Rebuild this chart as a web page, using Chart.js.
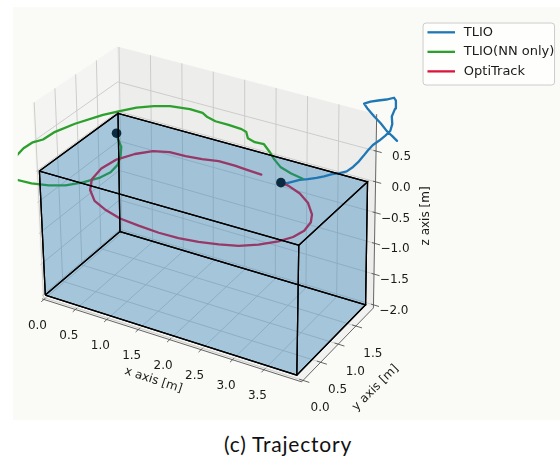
<!DOCTYPE html>
<html>
<head>
<meta charset="utf-8">
<script src="https://cdn.jsdelivr.net/npm/chart.js@4.4.1/dist/chart.umd.min.js"></script>
<style>
  html, body { margin: 0; padding: 0; background: #fff; }
  #wrap { position: relative; width: 560px; height: 465px; overflow: hidden; }
  #fig { position: absolute; left: 13px; top: 7px; }
  #caption { position: absolute; left: 0; width: 576px; top: 432px; text-align: center;
    font-family: Lato, "Open Sans", sans-serif; font-size: 21px; letter-spacing: 0.8px; color: #111; line-height: 24px; }
</style>
</head>
<body>
<div id="wrap">
  <canvas id="fig" width="547" height="413"></canvas>
  <div id="caption">(c) Trajectory</div>
</div>
<script>
// axis ticks and limits (metres)
const xTicks = [0.0, 0.5, 1.0, 1.5, 2.0, 2.5, 3.0, 3.5];
const yTicks = [0.0, 0.5, 1.0, 1.5];
const zTicks = [-2.0, -1.5, -1.0, -0.5, 0.0, 0.5];
const xLim = [-0.03, 4.1];
const yLim = [-0.04, 2.0];
const zLim = [-2.05, 1.1];

// the room drawn as a blue box
const roomX = [0, 4.0];
const roomY = [0, 1.95];
const roomZ = [-2.0, 0.0];

// TLIO
const tlioX = [2.66, 2.76, 2.87, 2.96, 3.09, 3.23, 3.35, 3.48, 3.60, 3.71, 3.81, 3.89, 3.97, 4.04, 4.12, 4.22, 4.31,
  4.39, 4.42, 4.41, 4.46, 4.47, 4.44, 4.32, 4.19, 4.07, 3.97, 4.02, 4.13, 4.24, 4.34, 4.42, 4.50];
const tlioY = [1.87, 1.87, 1.87, 1.87, 1.87, 1.87, 1.87, 1.87, 1.87, 1.87, 1.87, 1.87, 1.87, 1.87, 1.87, 1.87, 1.87,
  1.87, 1.87, 1.87, 1.87, 1.87, 1.87, 1.87, 1.87, 1.87, 1.87, 1.87, 1.87, 1.87, 1.87, 1.87, 1.87];
const tlioZ = [-0.35, -0.33, -0.27, -0.22, -0.17, -0.11, -0.05, 0.02, 0.07, 0.13, 0.23, 0.33, 0.45, 0.56, 0.67, 0.77, 0.87,
  0.97, 1.09, 1.21, 1.35, 1.48, 1.52, 1.46, 1.41, 1.36, 1.30, 1.24, 1.14, 1.05, 0.95, 0.90, 0.84];

// TLIO (NN only)
const nnX = [3.42, 3.21, 3.00, 2.81, 2.65, 2.47, 2.33, 2.19, 2.08, 1.98, 1.76, 1.55, 1.39, 1.27, 1.06, 0.78, 0.59, 0.41,
  0.27, 0.14, -0.04, -0.14, -0.15, -0.22, -0.23, -0.19, -0.17, -0.09, 0.03, 0.14, 0.39, 0.61, 0.79, 0.94, 1.06, 1.10,
  1.07, 0.97, 0.84, 0.69, 0.58];
const nnY = [1.15, 1.20, 1.28, 1.43, 1.58, 1.73, 1.72, 1.77, 1.91, 1.95, 1.97, 1.97, 2.02, 2.09, 2.10, 2.04, 1.93, 1.78,
  1.58, 1.37, 0.96, 0.60, 0.35, 0.21, 0.00, -0.23, -0.41, -0.60, -0.75, -0.83, -0.81, -0.74, -0.62, -0.43, -0.19, 0.01,
  0.24, 0.48, 0.71, 0.87, 1.01];
const nnZ = [0.30, 0.30, 0.30, 0.30, 0.30, 0.30, 0.30, 0.30, 0.30, 0.30, 0.30, 0.30, 0.30, 0.30, 0.30, 0.30, 0.30, 0.30,
  0.30, 0.30, 0.30, 0.30, 0.30, 0.30, 0.30, 0.30, 0.30, 0.30, 0.30, 0.30, 0.30, 0.30, 0.30, 0.30, 0.30, 0.30,
  0.30, 0.30, 0.30, 0.30, 0.30];

// OptiTrack
const optiX = [2.66, 2.79, 3.04, 3.27, 3.47, 3.56, 3.59, 3.54, 3.42, 3.23, 3.01, 2.76, 2.49, 2.21, 1.91, 1.58, 1.27,
  0.97, 0.73, 0.52, 0.38, 0.33, 0.37, 0.50, 0.67, 0.88, 1.13, 1.37, 1.60, 1.86, 2.08, 2.31];
const optiY = [1.87, 1.85, 1.74, 1.57, 1.33, 1.14, 0.90, 0.68, 0.48, 0.27, 0.11, 0.01, -0.07, -0.12, -0.13, -0.10, -0.06,
  0.05, 0.18, 0.41, 0.68, 1.00, 1.32, 1.58, 1.77, 1.86, 1.87, 1.91, 1.97, 1.97, 1.95, 1.93];
const optiZ = [-0.35, -0.35, -0.35, -0.35, -0.35, -0.35, -0.35, -0.35, -0.35, -0.35, -0.35, -0.35, -0.35, -0.35, -0.35,
  -0.35, -0.35, -0.35, -0.35, -0.35, -0.35, -0.35, -0.35, -0.35, -0.35, -0.35, -0.35, -0.35, -0.35, -0.35, -0.35, -0.35];

// start markers
const markX = [2.66, 0.58];
const markY = [1.87, 1.01];
const markZ = [-0.35, 0.30];

const seriesNames = ['TLIO', 'TLIO(NN only)', 'OptiTrack'];
const seriesColors = ['#1f77b4', '#2ca02c', '#dc143c'];

// camera: page pixel of each room corner, trilinear blend in between
const VIEW = {
  '000': [41, 297], '100': [297, 379], '010': [117, 232], '110': [367, 307],
  '001': [35, 170], '101': [299, 246], '011': [115, 111], '111': [369, 181]
};

function project(x, y, z) {
  const u = (x - roomX[0]) / (roomX[1] - roomX[0]);
  const v = (y - roomY[0]) / (roomY[1] - roomY[0]);
  const w = (z - roomZ[0]) / (roomZ[1] - roomZ[0]);
  let px = 0, py = 0;
  for (const key in VIEW) {
    const wt = (key[0] === '1' ? u : 1 - u) * (key[1] === '1' ? v : 1 - v) * (key[2] === '1' ? w : 1 - w);
    px += wt * VIEW[key][0];
    py += wt * VIEW[key][1];
  }
  return { x: px, y: py };
}

function path(pts, style) {
  return Object.assign({
    data: pts.map(p => project(p[0], p[1], p[2])),
    pointRadius: 0, tension: 0, fill: false, borderWidth: 1
  }, style);
}

function zip(xs, ys, zs) {
  return xs.map((x, i) => [x, ys[i], zs[i]]);
}

let datasets = [];
const [x0, x1] = xLim, [y0, y1] = yLim, [z0, z1] = zLim;

// panes
datasets.push(path([[x0, y0, z0], [x1, y0, z0], [x1, y1, z0], [x0, y1, z0], [x0, y0, z0]],
  { fill: 'shape', backgroundColor: 'rgba(236,236,236,0.6)', borderWidth: 0, order: 100 }));
datasets.push(path([[x0, y0, z0], [x0, y1, z0], [x0, y1, z1], [x0, y0, z1], [x0, y0, z0]],
  { fill: 'shape', backgroundColor: 'rgba(240,240,240,0.6)', borderWidth: 0, order: 100 }));
datasets.push(path([[x0, y1, z0], [x1, y1, z0], [x1, y1, z1], [x0, y1, z1], [x0, y1, z0]],
  { fill: 'shape', backgroundColor: 'rgba(228,228,228,0.6)', borderWidth: 0, order: 100 }));

// grid lines on the panes
const grid = { borderColor: '#c8c8c8', borderWidth: 0.9, order: 90 };
xTicks.forEach(t => {
  datasets.push(path([[t, y0, z0], [t, y1, z0], [t, y1, z1]], grid));
});
yTicks.forEach(t => {
  datasets.push(path([[x1, t, z0], [x0, t, z0], [x0, t, z1]], grid));
});
zTicks.forEach(t => {
  datasets.push(path([[x0, y0, t], [x0, y1, t], [x1, y1, t]], grid));
});

// axis lines and tick marks
const axis = { borderColor: '#555', borderWidth: 0.9, order: 85 };
datasets.push(path([[x0, y0, z0], [x1, y0, z0], [x1, y1, z0], [x1, y1, z1]], axis));
xTicks.forEach(t => datasets.push(path([[t, y0 + 0.04, z0], [t, y0 - 0.07, z0]], axis)));
yTicks.forEach(t => datasets.push(path([[x1 - 0.06, t, z0], [x1 + 0.1, t, z0]], axis)));
zTicks.forEach(t => datasets.push(path([[x1 - 0.04, y1, t], [x1 + 0.09, y1, t]], axis)));

// trajectories
const tracks = [zip(tlioX, tlioY, tlioZ), zip(nnX, nnY, nnZ), zip(optiX, optiY, optiZ)];
tracks.forEach((pts, i) => {
  datasets.push(path(pts, {
    label: seriesNames[i], borderColor: seriesColors[i], borderWidth: 2.3,
    borderJoinStyle: 'round', borderCapStyle: 'round', order: 52 - i
  }));
});
datasets.push(path(zip(markX, markY, markZ), {
  showLine: false, pointRadius: 4.8, pointBackgroundColor: '#000', pointBorderWidth: 0, order: 45
}));

// room box faces and edges
const bx = roomX, by = roomY, bz = roomZ;
const faces = [
  [[bx[0], by[0], bz[0]], [bx[1], by[0], bz[0]], [bx[1], by[1], bz[0]], [bx[0], by[1], bz[0]]],
  [[bx[0], by[0], bz[1]], [bx[1], by[0], bz[1]], [bx[1], by[1], bz[1]], [bx[0], by[1], bz[1]]],
  [[bx[0], by[0], bz[0]], [bx[1], by[0], bz[0]], [bx[1], by[0], bz[1]], [bx[0], by[0], bz[1]]],
  [[bx[0], by[1], bz[0]], [bx[1], by[1], bz[0]], [bx[1], by[1], bz[1]], [bx[0], by[1], bz[1]]],
  [[bx[0], by[0], bz[0]], [bx[0], by[1], bz[0]], [bx[0], by[1], bz[1]], [bx[0], by[0], bz[1]]],
  [[bx[1], by[0], bz[0]], [bx[1], by[1], bz[0]], [bx[1], by[1], bz[1]], [bx[1], by[0], bz[1]]]
];
faces.forEach(f => {
  datasets.push(path(f.concat([f[0]]), {
    fill: 'shape', backgroundColor: 'rgba(31,119,180,0.2)', borderWidth: 0, order: 40
  }));
});
faces.forEach(f => {
  datasets.push(path(f.concat([f[0]]), { borderColor: '#000', borderWidth: 1.3, order: 30 }));
});

const fmt = t => t.toFixed(1).replace('-', '\u2212');

const background = {
  id: 'background',
  beforeDraw(chart) {
    const ctx = chart.ctx;
    ctx.save();
    ctx.fillStyle = '#fafaf6';
    ctx.fillRect(0, 0, chart.width, chart.height);
    ctx.restore();
  }
};

const annotations = {
  id: 'annotations',
  afterDraw(chart) {
    const ctx = chart.ctx, sx = chart.scales.x, sy = chart.scales.y;
    const cx = v => sx.getPixelForValue(v), cy = v => sy.getPixelForValue(v);
    const at = p => [cx(p.x), cy(p.y)];
    ctx.save();
    ctx.fillStyle = '#1a1a1a';
    ctx.font = '12px "DejaVu Sans"';
    ctx.textBaseline = 'middle';
    ctx.textAlign = 'center';
    xTicks.forEach(t => {
      const [a, b] = at(project(t, y0, z0));
      ctx.fillText(fmt(t), a - 6.5, b + 26);
    });
    yTicks.forEach(t => {
      const [a, b] = at(project(x1, t, z0));
      ctx.fillText(fmt(t), a + 17, b + 27.5);
    });
    ctx.textAlign = 'right';
    zTicks.forEach(t => {
      const [a, b] = at(project(x1, y1, t));
      ctx.fillText(fmt(t), a + 35, b + 6);
    });

    // axis titles
    const title = (text, px, py, deg) => {
      ctx.save();
      ctx.translate(cx(px), cy(py));
      ctx.rotate(deg * Math.PI / 180);
      ctx.textAlign = 'center';
      ctx.fillText(text, 0, 0);
      ctx.restore();
    };
    title('x axis [m]', 151, 384, 18);
    title('y axis [m]', 377, 392, -45);
    title('z axis [m]', 428, 216, -90);

    // legend
    const lx = 425.5, ly = 18.5, lw = 131.5, lh = 62;
    ctx.beginPath();
    ctx.roundRect(cx(lx), cy(ly), lw, lh, 3);
    ctx.fillStyle = 'rgba(255,255,255,0.8)';
    ctx.fill();
    ctx.strokeStyle = '#cccccc';
    ctx.lineWidth = 1;
    ctx.stroke();
    ctx.font = '13px "DejaVu Sans"';
    ctx.textAlign = 'left';
    seriesNames.forEach((name, i) => {
      const yy = cy(28 + i * 20);
      ctx.beginPath();
      ctx.moveTo(cx(430), yy);
      ctx.lineTo(cx(458), yy);
      ctx.strokeStyle = seriesColors[i];
      ctx.lineWidth = 2.3;
      ctx.stroke();
      ctx.fillStyle = '#1a1a1a';
      ctx.fillText(name, cx(467), yy);
    });
    ctx.restore();
  }
};

new Chart(document.getElementById('fig'), {
  type: 'line',
  data: { datasets: datasets },
  options: {
    responsive: false,
    animation: false,
    events: [],
    layout: { padding: 0 },
    scales: {
      x: { type: 'linear', min: 13, max: 560, display: false },
      y: { type: 'linear', min: 7, max: 420, reverse: true, display: false }
    },
    plugins: {
      legend: { display: false },
      tooltip: { enabled: false }
    }
  },
  plugins: [background, annotations]
});
</script>
</body>
</html>
